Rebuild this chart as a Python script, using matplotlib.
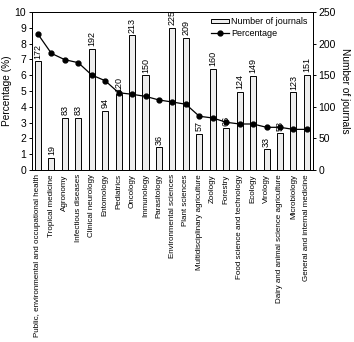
import numpy as np
import matplotlib.pyplot as plt

plt.rcParams['font.family'] = ['Liberation Sans', 'DejaVu Sans']

categories = [
    'Public, environmental and occupational health', 'Tropical medicine',
    'Agronomy', 'Infectious diseases', 'Clinical neurology', 'Entomology',
    'Pediatrics', 'Oncology', 'Immunology', 'Parasitology',
    'Environmental sciences', 'Plant sciences',
    'Multidisciplinary agriculture', 'Zoology', 'Forestry',
    'Food science and technology', 'Ecology', 'Virology',
    'Dairy and animal science agriculture', 'Microbiology',
    'General and internal medicine',
]
journals = [172, 19, 83, 83, 192, 94, 120, 213, 150, 36, 225, 209, 57, 160,
            66, 124, 149, 33, 58, 123, 151]
percentage = [8.6, 7.38, 6.98, 6.79, 6.01, 5.65, 4.89, 4.79, 4.66, 4.43,
              4.30, 4.16, 3.40, 3.29, 3.02, 2.91, 2.91, 2.70, 2.70, 2.57,
              2.57]

fig = plt.figure(figsize=(3.54, 3.42), dpi=100)
ax = fig.add_axes([0.090, 0.503, 0.794, 0.462])
ax2 = ax.twinx()

x = np.arange(len(categories))

# bars on the right axis
bars = ax2.bar(x, journals, width=0.45, color='#ededed', edgecolor='black',
               linewidth=0.7, label='Number of journals')
for xi, v in zip(x, journals):
    ax2.text(xi, v + 4, str(v), rotation=90, ha='center', va='bottom',
             fontsize=6.5)
ax2.set_ylim(0, 250)
ax2.set_yticks(range(0, 251, 50))
ax2.set_ylabel('Number of journals', rotation=270, labelpad=10, fontsize=7.3)

# line on the left axis, drawn above the bars
ax.set_zorder(ax2.get_zorder() + 1)
ax.patch.set_visible(False)
line, = ax.plot(x, percentage, color='black', marker='o', markersize=3.5,
                linewidth=0.9, label='Percentage')
ax.set_ylim(0, 10)
ax.set_yticks(range(0, 11))
ax.set_ylabel('Percentage (%)', fontsize=7.3, labelpad=2)

ax.set_xlim(-0.45, len(categories) - 0.55)
ax.set_xticks(x)
ax.set_xticklabels(categories, rotation=90, fontsize=5.8)
ax.tick_params(axis='x', length=0, pad=3)
ax.tick_params(axis='y', labelsize=7.5, length=2.5, width=0.7, pad=1.5)
ax2.tick_params(axis='y', labelsize=7.5, length=2.5, width=0.7, pad=1.5)
for a in (ax, ax2):
    for s in a.spines.values():
        s.set_linewidth(0.7)

ax.legend([bars, line], ['Number of journals', 'Percentage'],
          loc='upper right', frameon=False, fontsize=6.5,
          handlelength=2.0, handleheight=0.4, handletextpad=0.2,
          labelspacing=0.3, borderaxespad=0.2)

fig.savefig('out.png', dpi=100)
